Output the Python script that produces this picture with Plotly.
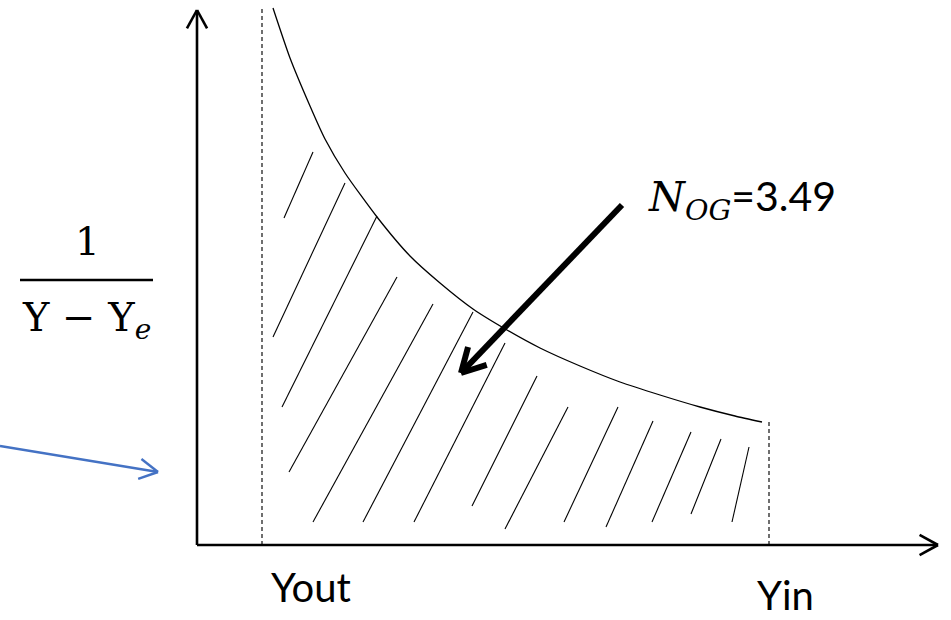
import math
import plotly.graph_objects as go

# Coordinates measured from the axis origin (x to the right, y upward).
# Operating curve 1/(Y - Ye) between Yout and Yin
curve_x = [76, 93, 113, 128, 148, 180, 213, 243, 276, 310, 343, 383, 423, 463, 503, 538, 565]
curve_y = [537, 487, 439, 406, 372, 328, 289, 262, 236, 215, 197, 179, 163, 150, 138, 129, 123]

# Hatching under the curve: start / end of each stroke
hatch_x0 = [87, 76, 85, 92, 116, 166, 217, 275, 308, 367, 409, 455, 494, 535]
hatch_y0 = [327, 208, 138, 73, 23, 23, 23, 39, 16, 23, 18, 23, 31, 23]
hatch_x1 = [116, 148, 180, 200, 236, 276, 308, 340, 371, 421, 456, 494, 524, 552]
hatch_y1 = [393, 362, 329, 268, 241, 233, 202, 169, 138, 138, 124, 113, 106, 98]

# Integration limits
y_out_x, y_out_top = 65, 537
y_in_x, y_in_top = 572, 125

# Axis arrows
y_axis_top = 535
x_axis_end = 741

# Pointer to the shaded area (start, tip) and the side arrow (start, tip)
pointer = [(425, 340), (264, 172)]
side_arrow = [(-197, 99), (-39, 73)]

axis_labels = ["Yout", "Yin"]
n_og = 3.49

fig = go.Figure()


def seg(xs, ys, color="black", width=1.2, dash="solid"):
    fig.add_trace(go.Scatter(x=xs, y=ys, mode="lines", hoverinfo="skip",
                             line=dict(color=color, width=width, dash=dash),
                             showlegend=False))


def head(tip, start, size, color, width):
    # two short strokes forming an open arrowhead at tip
    dx, dy = start[0] - tip[0], start[1] - tip[1]
    L = math.hypot(dx, dy)
    ux, uy = dx / L, dy / L
    for ang in (0.5, -0.5):
        c, s = math.cos(ang), math.sin(ang)
        vx, vy = ux * c - uy * s, ux * s + uy * c
        seg([tip[0] + vx * size, tip[0]], [tip[1] + vy * size, tip[1]], color, width)


# hatch strokes
for a, b, c, d in zip(hatch_x0, hatch_y0, hatch_x1, hatch_y1):
    seg([a, c], [b, d], width=1.1)

# limits (dashed)
seg([y_out_x, y_out_x], [0, y_out_top], color="#222222", width=1.3, dash="4px,3px")
seg([y_in_x, y_in_x], [0, y_in_top], color="#222222", width=1.3, dash="4px,3px")

# curve
fig.add_trace(go.Scatter(x=curve_x, y=curve_y, mode="lines", hoverinfo="skip",
                         line=dict(color="black", width=1.3, shape="spline", smoothing=0.6),
                         showlegend=False))

# axes with arrowheads
seg([0, 0], [0, y_axis_top], width=2.6)
head((0, y_axis_top), (0, 0), 21, "black", 2.6)
seg([0, x_axis_end], [0, 0], width=2.6)
head((x_axis_end, 0), (0, 0), 21, "black", 2.6)

# thick pointer
seg([pointer[0][0], pointer[1][0]], [pointer[0][1], pointer[1][1]], width=6)
head(pointer[1], pointer[0], 27, "black", 6)

# blue side arrow
seg([side_arrow[0][0], side_arrow[1][0]], [side_arrow[0][1], side_arrow[1][1]],
    color="#4472C4", width=2.4)
head(side_arrow[1], side_arrow[0], 21, "#4472C4", 2.4)

# fraction bar of the y label
seg([-177, -44], [265, 265], width=2.6)

sans = "Lato"
serif = "DejaVu Serif"

annotations = [
    dict(x=114, y=-42, text=axis_labels[0], font=dict(family=sans, size=40, color="black")),
    dict(x=588, y=-50, text=axis_labels[1], font=dict(family=sans, size=40, color="black")),
    dict(x=-110, y=304, text="1", font=dict(family=serif, size=39, color="black")),
    dict(x=-111, y=225,
         text="Υ − Υ<sub><i>e</i></sub>",
         font=dict(family=serif, size=40, color="black")),
    dict(x=449, y=346, xanchor="left",
         text=("<span style='font-family:DejaVu Serif'><i>N</i><sub><i>OG</i></sub></span>"
               f"={n_og:.2f}"),
         font=dict(family=sans, size=41, color="black")),
]
for a in annotations:
    a.setdefault("xanchor", "center")
    a.update(showarrow=False, xref="x", yref="y", yanchor="middle")

fig.update_layout(
    width=951, height=620,
    margin=dict(l=0, r=0, t=0, b=0),
    paper_bgcolor="white", plot_bgcolor="white",
    xaxis=dict(range=[-197, 754], visible=False, fixedrange=True),
    yaxis=dict(range=[-75, 545], visible=False, fixedrange=True),
    annotations=annotations,
    showlegend=False,
)

fig.write_html("out.html")
